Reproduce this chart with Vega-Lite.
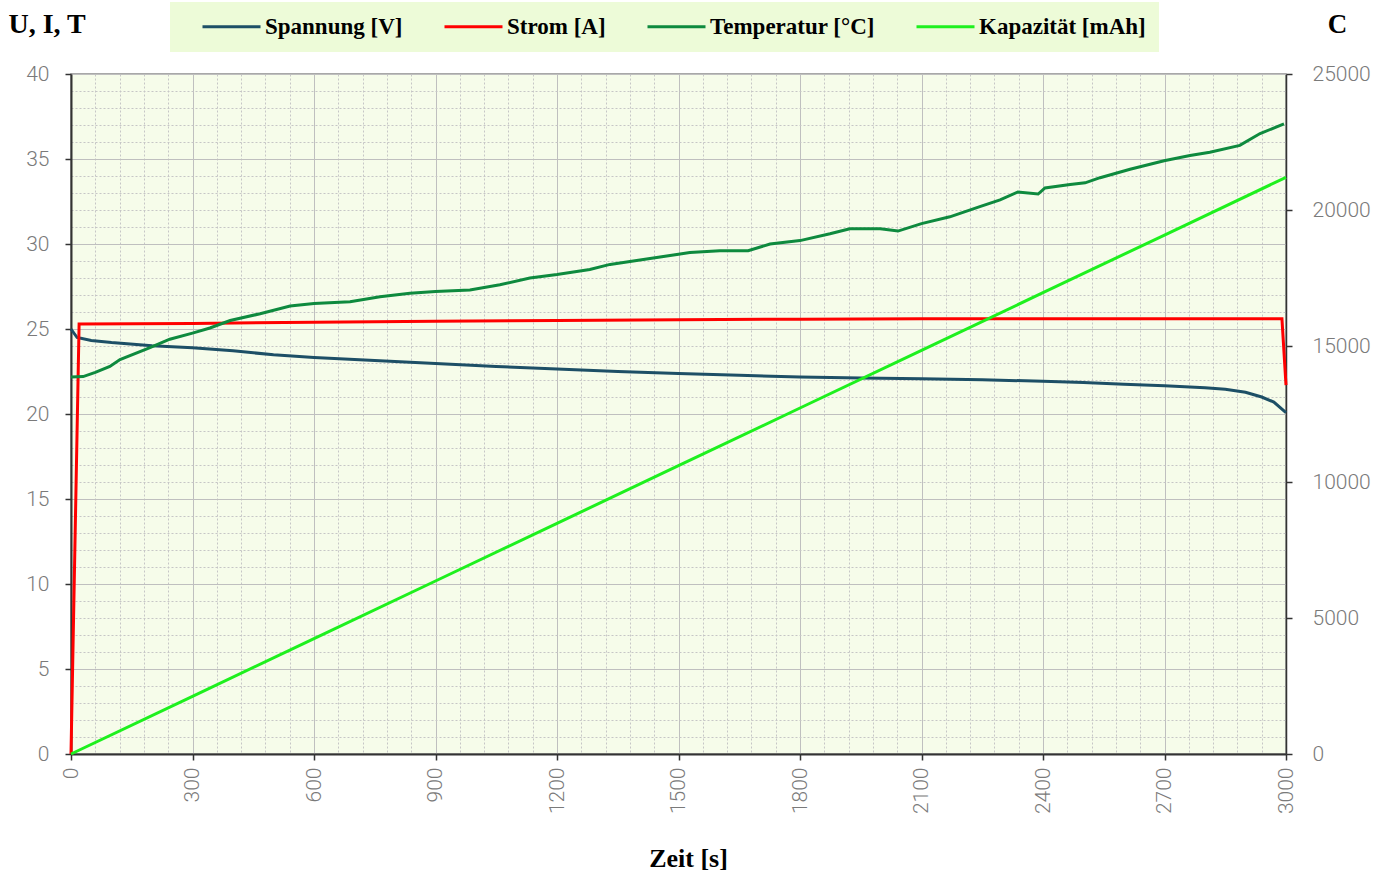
{
  "$schema": "https://vega.github.io/schema/vega-lite/v6.json",
  "width": 1215,
  "height": 680,
  "autosize": {"type": "none"},
  "padding": {"left": 71, "top": 74, "right": 107, "bottom": 121},
  "background": "white",
  "config": {
    "view": {"stroke": "#8c8c8c", "strokeWidth": 1.5, "fill": "#f6fcea"},
    "axis": {
      "labelFont": "Roboto",
      "labelFontWeight": 300,
      "labelFontSize": 21,
      "labelColor": "#7a7a7a",
      "labelOverlap": false,
      "titleFont": "Liberation Serif",
      "titleFontWeight": "bold",
      "titleColor": "#000000",
      "domainColor": "#333333",
      "domainWidth": 2,
      "tickColor": "#333333",
      "tickSize": 6,
      "tickWidth": 1.5
    },
    "legend": {
      "orient": "none",
      "legendX": 99,
      "legendY": -72,
      "direction": "horizontal",
      "columns": 4,
      "fillColor": "#edfbd8",
      "padding": 13,
      "titleOrient": "left",
      "titleFontSize": 20,
      "titlePadding": 37,
      "symbolType": "M-3.625,0H3.625",
      "symbolSize": 256,
      "symbolStrokeWidth": 3,
      "labelFont": "Liberation Serif",
      "labelFontWeight": "bold",
      "labelFontSize": 23,
      "labelColor": "#000000",
      "labelOffset": 22,
      "labelLimit": 300,
      "columnPadding": 35
    }
  },
  "datasets": {
    "d": [
      {"t": 0, "s": "Spannung [V]", "v": 25.0},
      {"t": 15, "s": "Spannung [V]", "v": 24.5},
      {"t": 50, "s": "Spannung [V]", "v": 24.32},
      {"t": 100, "s": "Spannung [V]", "v": 24.2},
      {"t": 200, "s": "Spannung [V]", "v": 24.02},
      {"t": 300, "s": "Spannung [V]", "v": 23.9},
      {"t": 400, "s": "Spannung [V]", "v": 23.72},
      {"t": 500, "s": "Spannung [V]", "v": 23.48},
      {"t": 600, "s": "Spannung [V]", "v": 23.32},
      {"t": 750, "s": "Spannung [V]", "v": 23.15},
      {"t": 900, "s": "Spannung [V]", "v": 22.97},
      {"t": 1050, "s": "Spannung [V]", "v": 22.8},
      {"t": 1200, "s": "Spannung [V]", "v": 22.65},
      {"t": 1350, "s": "Spannung [V]", "v": 22.5},
      {"t": 1500, "s": "Spannung [V]", "v": 22.38},
      {"t": 1650, "s": "Spannung [V]", "v": 22.28},
      {"t": 1800, "s": "Spannung [V]", "v": 22.18},
      {"t": 1950, "s": "Spannung [V]", "v": 22.12},
      {"t": 2100, "s": "Spannung [V]", "v": 22.07},
      {"t": 2250, "s": "Spannung [V]", "v": 22.01},
      {"t": 2400, "s": "Spannung [V]", "v": 21.93},
      {"t": 2500, "s": "Spannung [V]", "v": 21.85},
      {"t": 2600, "s": "Spannung [V]", "v": 21.75},
      {"t": 2700, "s": "Spannung [V]", "v": 21.66},
      {"t": 2800, "s": "Spannung [V]", "v": 21.55},
      {"t": 2850, "s": "Spannung [V]", "v": 21.45},
      {"t": 2900, "s": "Spannung [V]", "v": 21.28},
      {"t": 2940, "s": "Spannung [V]", "v": 21.0},
      {"t": 2970, "s": "Spannung [V]", "v": 20.7},
      {"t": 3000, "s": "Spannung [V]", "v": 20.08},

      {"t": 0, "s": "Strom [A]", "v": 0},
      {"t": 20, "s": "Strom [A]", "v": 25.3},
      {"t": 300, "s": "Strom [A]", "v": 25.33},
      {"t": 600, "s": "Strom [A]", "v": 25.4},
      {"t": 900, "s": "Strom [A]", "v": 25.45},
      {"t": 1200, "s": "Strom [A]", "v": 25.5},
      {"t": 1500, "s": "Strom [A]", "v": 25.55},
      {"t": 1800, "s": "Strom [A]", "v": 25.58},
      {"t": 2100, "s": "Strom [A]", "v": 25.6},
      {"t": 2400, "s": "Strom [A]", "v": 25.6},
      {"t": 2700, "s": "Strom [A]", "v": 25.6},
      {"t": 2990, "s": "Strom [A]", "v": 25.6},
      {"t": 3000, "s": "Strom [A]", "v": 21.7},

      {"t": 0, "s": "Temperatur [°C]", "v": 22.18},
      {"t": 30, "s": "Temperatur [°C]", "v": 22.2},
      {"t": 60, "s": "Temperatur [°C]", "v": 22.45},
      {"t": 96, "s": "Temperatur [°C]", "v": 22.8},
      {"t": 121, "s": "Temperatur [°C]", "v": 23.2},
      {"t": 195, "s": "Temperatur [°C]", "v": 23.9},
      {"t": 244, "s": "Temperatur [°C]", "v": 24.4},
      {"t": 300, "s": "Temperatur [°C]", "v": 24.76},
      {"t": 343, "s": "Temperatur [°C]", "v": 25.06},
      {"t": 393, "s": "Temperatur [°C]", "v": 25.5},
      {"t": 467, "s": "Temperatur [°C]", "v": 25.9},
      {"t": 541, "s": "Temperatur [°C]", "v": 26.35},
      {"t": 600, "s": "Temperatur [°C]", "v": 26.5},
      {"t": 689, "s": "Temperatur [°C]", "v": 26.6},
      {"t": 763, "s": "Temperatur [°C]", "v": 26.9},
      {"t": 837, "s": "Temperatur [°C]", "v": 27.1},
      {"t": 900, "s": "Temperatur [°C]", "v": 27.2},
      {"t": 985, "s": "Temperatur [°C]", "v": 27.3},
      {"t": 1059, "s": "Temperatur [°C]", "v": 27.6},
      {"t": 1133, "s": "Temperatur [°C]", "v": 28.0},
      {"t": 1200, "s": "Temperatur [°C]", "v": 28.2},
      {"t": 1281, "s": "Temperatur [°C]", "v": 28.5},
      {"t": 1331, "s": "Temperatur [°C]", "v": 28.8},
      {"t": 1405, "s": "Temperatur [°C]", "v": 29.06},
      {"t": 1500, "s": "Temperatur [°C]", "v": 29.4},
      {"t": 1528, "s": "Temperatur [°C]", "v": 29.5},
      {"t": 1602, "s": "Temperatur [°C]", "v": 29.6},
      {"t": 1672, "s": "Temperatur [°C]", "v": 29.6},
      {"t": 1726, "s": "Temperatur [°C]", "v": 30.0},
      {"t": 1800, "s": "Temperatur [°C]", "v": 30.2},
      {"t": 1874, "s": "Temperatur [°C]", "v": 30.6},
      {"t": 1923, "s": "Temperatur [°C]", "v": 30.9},
      {"t": 1998, "s": "Temperatur [°C]", "v": 30.9},
      {"t": 2042, "s": "Temperatur [°C]", "v": 30.76},
      {"t": 2100, "s": "Temperatur [°C]", "v": 31.2},
      {"t": 2170, "s": "Temperatur [°C]", "v": 31.6},
      {"t": 2244, "s": "Temperatur [°C]", "v": 32.2},
      {"t": 2294, "s": "Temperatur [°C]", "v": 32.6},
      {"t": 2338, "s": "Temperatur [°C]", "v": 33.06},
      {"t": 2388, "s": "Temperatur [°C]", "v": 32.94},
      {"t": 2405, "s": "Temperatur [°C]", "v": 33.3},
      {"t": 2467, "s": "Temperatur [°C]", "v": 33.5},
      {"t": 2504, "s": "Temperatur [°C]", "v": 33.6},
      {"t": 2541, "s": "Temperatur [°C]", "v": 33.9},
      {"t": 2615, "s": "Temperatur [°C]", "v": 34.4},
      {"t": 2699, "s": "Temperatur [°C]", "v": 34.9},
      {"t": 2763, "s": "Temperatur [°C]", "v": 35.2},
      {"t": 2812, "s": "Temperatur [°C]", "v": 35.4},
      {"t": 2886, "s": "Temperatur [°C]", "v": 35.8},
      {"t": 2936, "s": "Temperatur [°C]", "v": 36.5},
      {"t": 2995, "s": "Temperatur [°C]", "v": 37.06},

      {"t": 0, "s": "Kapazität [mAh]", "v": 0},
      {"t": 300, "s": "Kapazität [mAh]", "v": 2120},
      {"t": 600, "s": "Kapazität [mAh]", "v": 4240},
      {"t": 900, "s": "Kapazität [mAh]", "v": 6360},
      {"t": 1200, "s": "Kapazität [mAh]", "v": 8480},
      {"t": 1500, "s": "Kapazität [mAh]", "v": 10600},
      {"t": 1800, "s": "Kapazität [mAh]", "v": 12720},
      {"t": 2100, "s": "Kapazität [mAh]", "v": 14840},
      {"t": 2400, "s": "Kapazität [mAh]", "v": 16960},
      {"t": 2700, "s": "Kapazität [mAh]", "v": 19080},
      {"t": 3000, "s": "Kapazität [mAh]", "v": 21200}
    ]
  },
  "data": {"name": "d"},
  "encoding": {
    "x": {
      "field": "t",
      "type": "quantitative",
      "scale": {"domain": [0, 3000], "nice": false},
      "axis": {
        "title": "Zeit [s]",
        "titleFontSize": 26,
        "titleX": 617,
        "titleY": 104,
        "titleBaseline": "middle",
        "titleAlign": "center",
        "values": [0,60,120,180,240,300,360,420,480,540,600,660,720,780,840,900,960,1020,1080,1140,1200,1260,1320,1380,1440,1500,1560,1620,1680,1740,1800,1860,1920,1980,2040,2100,2160,2220,2280,2340,2400,2460,2520,2580,2640,2700,2760,2820,2880,2940,3000],
        "format": "d",
        "labelExpr": "datum.value % 300 === 0 ? datum.label : ''",
        "labelAngle": -90,
        "labelPadding": 7,
        "labelOverlap": false,
        "labelFlush": false,
        "grid": true,
        "gridColor": {"condition": {"test": "datum.value % 300 === 0", "value": "#bfbfbf"}, "value": "#c6c6c6"},
        "gridDash": {"condition": {"test": "datum.value % 300 === 0", "value": []}, "value": [2, 2]},
        "gridWidth": 1,
        "tickOpacity": {"condition": {"test": "datum.value % 300 === 0", "value": 1}, "value": 0}
      }
    },
    "color": {
      "field": "s",
      "type": "nominal",
      "scale": {
        "domain": ["Spannung [V]", "Strom [A]", "Temperatur [°C]", "Kapazität [mAh]"],
        "range": ["#1d4f66", "#ff0000", "#0e8a3e", "#1ef01e"]
      },
      "legend": {"title": " "}
    }
  },
  "layer": [
    {
      "transform": [{"filter": "datum.s !== 'Kapazität [mAh]'"}],
      "mark": {"type": "line", "strokeWidth": 3},
      "encoding": {
        "y": {
          "field": "v",
          "type": "quantitative",
          "scale": {"domain": [0, 40], "nice": false},
          "axis": {
            "title": "U, I, T",
            "titleFontSize": 28,
            "titleAngle": 0,
            "titleAlign": "left",
            "titleBaseline": "middle",
            "titleX": -63,
            "titleY": -50,
            "values": [0,1,2,3,4,5,6,7,8,9,10,11,12,13,14,15,16,17,18,19,20,21,22,23,24,25,26,27,28,29,30,31,32,33,34,35,36,37,38,39,40],
            "labelExpr": "datum.value % 5 === 0 ? datum.label : ''",
            "labelPadding": 16,
            "labelOverlap": false,
            "labelFlush": false,
            "grid": true,
            "gridColor": {"condition": {"test": "datum.value % 5 === 0", "value": "#bfbfbf"}, "value": "#c6c6c6"},
            "gridDash": {"condition": {"test": "datum.value % 5 === 0", "value": []}, "value": [2, 2]},
            "gridWidth": 1,
            "tickOpacity": {"condition": {"test": "datum.value % 5 === 0", "value": 1}, "value": 0}
          }
        }
      }
    },
    {
      "transform": [{"filter": "datum.s === 'Kapazität [mAh]'"}],
      "mark": {"type": "line", "strokeWidth": 3},
      "encoding": {
        "y": {
          "field": "v",
          "type": "quantitative",
          "scale": {"domain": [0, 25000], "nice": false},
          "axis": {
            "orient": "right",
            "title": "C",
            "titleFontSize": 27,
            "titleAngle": 0,
            "titleAlign": "center",
            "titleBaseline": "middle",
            "titleX": 51,
            "titleY": -50,
            "values": [0, 5000, 10000, 15000, 20000, 25000],
            "format": "d",
            "labelPadding": 20,
            "labelOverlap": false,
            "labelFlush": false,
            "grid": false,
            "domainWidth": 1.5
          }
        }
      }
    }
  ],
  "resolve": {"scale": {"y": "independent"}}
}
